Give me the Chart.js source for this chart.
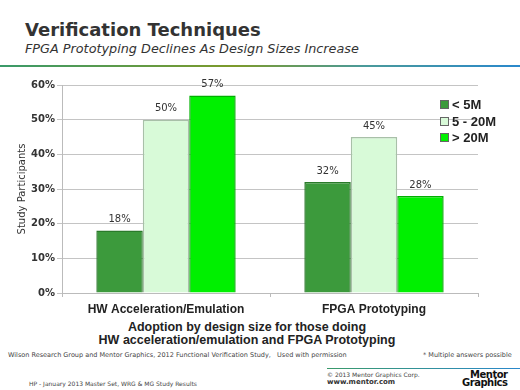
<!DOCTYPE html>
<html>
<head>
<meta charset="utf-8">
<script src="https://cdn.jsdelivr.net/npm/chart.js@4/dist/chart.umd.min.js"></script>
<style>
  body { margin: 0; background: #fff; font-family: "DejaVu Sans", Verdana, sans-serif; }
  #page { position: relative; width: 520px; height: 390px; overflow: hidden; background: #fff; }
  .abs { position: absolute; white-space: nowrap; }
  #title { left: 25px; top: 19px; font-size: 18px; font-weight: bold; color: #333; }
  #subtitle { left: 25px; top: 41px; font-size: 12.8px; font-style: italic; color: #333; }
  #rule { left: 0; top: 65px; width: 520px; height: 2px; background: linear-gradient(to right, #3a9a6a, #7d9a2a 45%, #4a9a9a 70%, #2a88cc); }
  #chartBox { left: 0; top: 70px; width: 520px; height: 250px; }
  #legend { left: 440px; top: 97px; font-family: "Liberation Sans", Arial, sans-serif; font-size: 13px; font-weight: bold; color: #222; line-height: 16.5px; }
  #legend span.sw { display: inline-block; width: 7px; height: 7px; margin-right: 3px; border: 1px solid #666; vertical-align: 0px; }
  #caption { left: 0; width: 494px; top: 321px; text-align: center; font-family: "Liberation Sans", Arial, sans-serif; font-size: 12.5px; font-weight: bold; color: #222; line-height: 12.5px; }
  .small { font-size: 6.5px; color: #444; }
  #rule2 { left: 327px; top: 368px; width: 193px; height: 1px; background: linear-gradient(to right, #3a9a6a, #2a88cc); }
  #logo { left: 462px; top: 371px; font-size: 10px; font-weight: bold; color: #111; line-height: 8px; text-align: right; letter-spacing: -0.5px; }
</style>
</head>
<body>
<div id="page">
  <div class="abs" id="title">Verification Techniques</div>
  <div class="abs" id="subtitle">FPGA Prototyping Declines As Design Sizes Increase</div>
  <div class="abs" id="rule"></div>
  <div class="abs" id="chartBox"><canvas id="bar-sizes" width="520" height="250"></canvas></div>
  <div class="abs" id="legend"></div>
  <div class="abs" id="caption">Adoption by design size for those doing<br>HW acceleration/emulation and FPGA Prototyping</div>
  <div class="abs small" style="left:8px; top:351px;">Wilson Research Group and Mentor Graphics, 2012 Functional Verification Study,&nbsp;&nbsp; Used with permission</div>
  <div class="abs small" style="left:423px; top:351px;">* Multiple answers possible</div>
  <div class="abs" id="rule2"></div>
  <div class="abs small" style="left:327px; top:371px; font-size:6px;">© 2013 Mentor Graphics Corp.</div>
  <div class="abs small" style="left:327px; top:378px; font-size:7px; font-weight:bold; color:#333;">www.mentor.com</div>
  <div class="abs small" style="left:29px; top:380px; font-size:6px;">HP - January 2013 Master Set, WRG &amp; MG Study Results</div>
  <div class="abs" id="logo">Mentor<br>Graphics</div>
</div>
<script>
const categories = ["HW Acceleration/Emulation", "FPGA Prototyping"];
const seriesNames = ["< 5M", "5 - 20M", "> 20M"];
const under5M = [18, 32];
const from5to20M = [50, 45];
const over20M = [57, 28];
const yTicks = [0, 10, 20, 30, 40, 50, 60];

const fills = ["#3c9a3c", "#d8fad8", "#00f000"];
const borders = ["#2a7a2a", "#a8c0a8", "#00b000"];

const valueLabels = {
    id: "valueLabels",
    afterDatasetsDraw(chart) {
        const ctx = chart.ctx;
        ctx.save();
        ctx.font = "10px 'DejaVu Sans'";
        ctx.fillStyle = "#333";
        ctx.textAlign = "center";
        ctx.textBaseline = "bottom";
        chart.data.datasets.forEach((ds, i) => {
            chart.getDatasetMeta(i).data.forEach((bar, j) => {
                ctx.fillText(ds.data[j] + "%", bar.x, bar.y - 6);
            });
        });
        ctx.restore();
    }
};

let initialChart = (idName) => {
    const canvas = document.getElementById(idName);
    const values = [under5M, from5to20M, over20M];
    new Chart(canvas, {
        type: "bar",
        data: {
            labels: categories,
            datasets: seriesNames.map((name, i) => ({
                label: name,
                data: values[i],
                backgroundColor: fills[i],
                borderColor: borders[i],
                borderWidth: 1.5,
                categoryPercentage: 0.67,
                barPercentage: 1.0
            }))
        },
        options: {
            responsive: false,
            animation: false,
            layout: { padding: { top: 15, right: 42, left: 0, bottom: 0 } },
            plugins: {
                legend: { display: false },
                tooltip: { enabled: false }
            },
            scales: {
                x: {
                    grid: { display: true, drawOnChartArea: false, color: "#bbb", tickLength: 4, offset: true },
                    border: { color: "#bbb" },
                    ticks: { color: "#222", font: { family: "Liberation Sans", size: 12, weight: "bold" }, padding: 5 },
                    afterFit: s => { s.height = 27; }
                },
                y: {
                    min: 0,
                    max: 60,
                    afterBuildTicks: s => { s.ticks = yTicks.map(v => ({ value: v })); },
                    grid: { color: "#c4c4c4", tickLength: 5 },
                    border: { color: "#bbb" },
                    ticks: {
                        color: "#333",
                        font: { family: "DejaVu Sans", size: 10, weight: "bold" },
                        padding: 2,
                        callback: v => v + "%"
                    },
                    title: {
                        display: true,
                        text: "Study Participants",
                        color: "#333",
                        font: { family: "DejaVu Sans", size: 10 },
                        padding: { top: 16, bottom: 0 }
                    },
                    afterFit: s => { s.width = 62; }
                }
            }
        },
        plugins: [valueLabels]
    });

    const legend = document.getElementById("legend");
    legend.innerHTML = seriesNames.map((name, i) =>
        '<div><span class="sw" style="background:' + fills[i] + '"></span>' +
        name.replace(/ /g, "&nbsp;") + "</div>").join("");
};

if (document.getElementById("bar-sizes")) {
    initialChart("bar-sizes");
}
</script>
</body>
</html>
